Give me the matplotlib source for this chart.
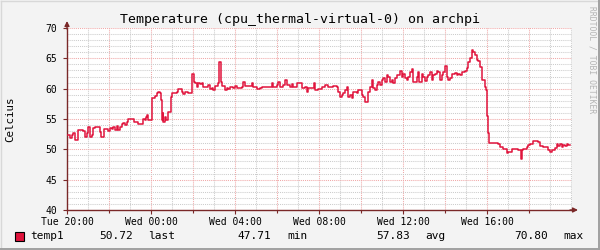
import matplotlib
matplotlib.use("Agg")
import matplotlib.pyplot as plt
from matplotlib.lines import Line2D
from matplotlib.patches import Rectangle
import numpy as np

plt.rcParams['font.family'] = ['DejaVu Sans Mono']

# hours since Tue 20:00 and temperature (deg C)
hours = [
    0.00, 0.14, 0.22, 0.30, 0.38, 0.54, 0.78, 0.86, 0.94, 1.02, 1.10, 1.17,
    1.25, 1.33, 1.49, 1.57, 1.60, 1.76, 1.97, 2.05, 2.13, 2.21, 2.29, 2.37,
    2.44, 2.52, 2.60, 2.68, 2.76, 2.84, 2.92, 3.19, 3.40, 3.60, 3.72, 3.76,
    3.83, 3.87, 4.06, 4.19, 4.27, 4.35, 4.43, 4.48, 4.51, 4.56, 4.59, 4.67,
    4.71, 4.79, 4.94, 4.98, 5.22, 5.30, 5.46, 5.51, 5.62, 5.78, 5.94, 5.97,
    6.05, 6.10, 6.17, 6.25, 6.33, 6.41, 6.49, 6.73, 6.81, 6.89, 6.97, 7.05,
    7.21, 7.25, 7.32, 7.37, 7.52, 7.60, 7.68, 7.76, 7.92, 8.00, 8.08, 8.32,
    8.40, 8.48, 8.79, 8.84, 9.03, 9.19, 9.27, 9.51, 9.75, 9.83, 9.99, 10.06,
    10.14, 10.30, 10.38, 10.46, 10.62, 10.70, 10.78, 10.94, 11.10, 11.17,
    11.33, 11.41, 11.49, 11.76, 11.81, 11.97, 12.13, 12.29, 12.44, 12.68,
    12.84, 12.92, 13.00, 13.08, 13.16, 13.24, 13.32, 13.40, 13.48, 13.56,
    13.63, 13.79, 13.87, 14.03, 14.11, 14.19, 14.35, 14.43, 14.51, 14.59,
    14.67, 14.75, 14.83, 14.90, 14.98, 15.06, 15.14, 15.22, 15.30, 15.38,
    15.46, 15.54, 15.62, 15.70, 15.86, 15.94, 16.02, 16.10, 16.17, 16.25,
    16.33, 16.41, 16.46, 16.65, 16.73, 16.78, 16.89, 16.97, 17.05, 17.13,
    17.21, 17.29, 17.37, 17.44, 17.52, 17.60, 17.68, 17.76, 17.84, 17.92,
    18.00, 18.08, 18.16, 18.24, 18.32, 18.48, 18.56, 18.63, 18.71, 18.79,
    18.95, 19.03, 19.11, 19.19, 19.27, 19.35, 19.43, 19.51, 19.59, 19.67,
    19.75, 19.83, 19.90, 19.95, 20.00, 20.04, 20.10, 20.30, 20.54, 20.62,
    20.78, 20.94, 21.02, 21.17, 21.49, 21.60, 21.65, 21.73, 21.89, 21.97,
    22.05, 22.21, 22.44, 22.52, 22.68, 22.92, 23.00, 23.08, 23.24, 23.32,
    23.40, 23.48, 23.56, 23.63, 23.71, 23.79, 23.87, 23.95,
]
temps = [
    52.37, 51.83, 52.37, 52.65, 51.55, 53.20, 53.10, 52.10, 52.65, 53.64,
    52.10, 52.40, 53.50, 53.74, 53.64, 52.90, 52.10, 53.30, 53.10, 53.50,
    53.30, 53.64, 53.20, 53.86, 53.20, 53.74, 54.20, 54.30, 54.00, 54.56,
    54.96, 54.56, 54.20, 54.96, 54.85, 55.40, 55.67, 54.85, 58.40, 58.80,
    59.24, 59.40, 59.24, 58.14, 54.85, 55.95, 54.56, 55.40, 54.85, 56.20,
    58.70, 59.24, 59.50, 59.95, 59.50, 59.07, 59.50, 59.35, 59.90, 62.50,
    61.15, 60.90, 60.33, 61.00, 60.80, 61.00, 60.33, 60.60, 59.90, 60.05,
    59.80, 60.43, 60.90, 64.45, 61.15, 60.43, 59.80, 60.05, 59.90, 60.33,
    60.05, 60.43, 60.05, 60.33, 61.15, 60.43, 61.00, 60.33, 59.90, 60.06,
    60.33, 60.20, 60.90, 60.33, 60.60, 61.15, 60.20, 60.60, 61.43, 60.60,
    60.33, 60.75, 60.20, 60.90, 60.90, 60.06, 60.20, 59.50, 60.06, 61.00,
    59.80, 59.90, 60.20, 60.60, 60.33, 60.40, 60.20, 59.50, 58.70, 58.96,
    59.35, 59.80, 60.20, 58.70, 58.96, 58.40, 59.50, 59.24, 59.70, 58.96,
    58.70, 57.86, 59.50, 60.20, 61.43, 60.06, 59.80, 60.60, 61.15, 60.60,
    61.43, 61.70, 61.15, 62.26, 62.00, 61.15, 61.43, 60.90, 61.70, 62.26,
    62.97, 62.00, 62.50, 61.70, 61.43, 62.00, 62.80, 63.20, 61.15, 62.00,
    62.80, 61.15, 62.50, 62.00, 61.30, 62.00, 62.26, 62.80, 61.43, 62.26,
    62.50, 62.97, 62.80, 61.43, 62.26, 62.80, 63.70, 62.00, 61.43, 61.70,
    62.50, 62.60, 62.26, 62.50, 62.26, 62.80, 62.97, 63.35, 64.45, 65.00,
    66.38, 66.10, 65.55, 64.70, 64.60, 63.63, 61.43, 61.43, 60.33, 59.80,
    55.50, 52.65, 51.10, 51.00, 50.90, 50.45, 50.00, 49.45, 49.60, 50.00,
    49.90, 48.36, 49.90, 50.00, 50.35, 50.70, 50.90, 51.43, 51.27, 50.55,
    50.35, 49.90, 49.60, 49.90, 50.20, 50.90, 50.55, 50.90, 50.45, 50.70,
    50.55, 50.90, 50.72, 50.72,
]

x_ticks = [0, 4, 8, 12, 16, 20]
x_labels = ["Tue 20:00", "Wed 00:00", "Wed 04:00", "Wed 08:00", "Wed 12:00", "Wed 16:00"]
y_ticks = [40, 45, 50, 55, 60, 65, 70]

legend_name = "temp1"
stats = [("50.72", "last"), ("47.71", "min"), ("57.83", "avg"), ("70.80", "max")]

W, H = 600, 250
fig = plt.figure(figsize=(6, 2.5), dpi=100, facecolor='#f3f3f3')

def fx(px):
    return px / W

def fy(py):
    return 1 - py / H

# frame shading
fig.add_artist(Line2D([fx(0.5), fx(599.5)], [fy(0.5), fy(0.5)], color='#d8d8d8', lw=1))
fig.add_artist(Line2D([fx(0.5), fx(0.5)], [fy(0.5), fy(249.5)], color='#d8d8d8', lw=1))
fig.add_artist(Line2D([fx(0), fx(600)], [fy(248.5), fy(248.5)], color='#a0a0a0', lw=1.4))
fig.add_artist(Line2D([fx(598.5), fx(598.5)], [fy(0), fy(250)], color='#a0a0a0', lw=1.4))

ax = fig.add_axes([fx(67), fy(210), fx(572 - 67), (210 - 28) / H])
ax.set_facecolor('white')

ax.step(hours, temps, where='post', color='#e0143c', lw=1.1, zorder=3)

ax.set_xlim(0, 24.05)
ax.set_ylim(40, 70)

# grid
grid_major = '#f0a8a8'
grid_minor = '#cccccc'
for h in np.arange(1, 24, 1):
    c = grid_major if h % 2 == 0 else grid_minor
    ax.axvline(h, color=c, lw=0.75, ls=(0, (1, 1)), zorder=1)
for v in range(41, 70):
    c = grid_major if v % 5 == 0 else grid_minor
    ax.axhline(v, color=c, lw=0.75, ls=(0, (1, 1)), zorder=1)
ax.axhline(70, color=grid_major, lw=0.75, ls=(0, (1, 1)), zorder=1)
ax.axvline(24, color=grid_minor, lw=0.75, ls=(0, (1, 1)), zorder=1)

axis_col = '#7a2828'
for s in ['top', 'right']:
    ax.spines[s].set_visible(False)
for s in ['left', 'bottom']:
    ax.spines[s].set_color(axis_col)
    ax.spines[s].set_linewidth(1.0)

ax.set_xticks(x_ticks)
ax.set_xticklabels(x_labels, fontsize=7)
ax.set_xticks(np.arange(0, 24, 2), minor=True)
ax.set_yticks(y_ticks)
ax.set_yticklabels([str(v) for v in y_ticks], fontsize=7)
ax.tick_params(axis='both', which='both', color=axis_col, length=3, width=0.8,
               direction='out', pad=2)
ax.tick_params(axis='x', which='minor', length=2)
ax.tick_params(axis='y', pad=4)

# arrows on axes
ax.annotate('', xy=(fx(578) , fy(210)), xycoords='figure fraction',
            xytext=(fx(570), fy(210)), textcoords='figure fraction',
            arrowprops=dict(arrowstyle='-|>', color=axis_col, lw=1.0,
                            mutation_scale=7, shrinkA=0, shrinkB=0))
ax.annotate('', xy=(fx(67), fy(21)), xycoords='figure fraction',
            xytext=(fx(67), fy(29)), textcoords='figure fraction',
            arrowprops=dict(arrowstyle='-|>', color=axis_col, lw=1.0,
                            mutation_scale=7, shrinkA=0, shrinkB=0))

fig.text(fx(300), fy(19), "Temperature (cpu_thermal-virtual-0) on archpi",
         ha='center', va='center', fontsize=9.5)
fig.text(fx(10), fy(119), "Celcius", rotation=90, ha='center', va='center',
         fontsize=7.8)
fig.text(fx(592), fy(6), "RRDTOOL / TOBI OETIKER", rotation=-90, ha='center',
         va='top', fontsize=5.8, color='#b4b4b4')

# legend row
ly = fy(236)
fig.add_artist(Rectangle((fx(15), fy(240.5)), fx(8.5), 9 / H, facecolor='#e0143c',
                         edgecolor='black', lw=0.8))
fig.text(fx(30), ly, legend_name, ha='left', va='center', fontsize=8)
val_x = [99, 237, 376, 514]
lab_x = [148, 287, 425, 563]
for (val, lab), vx, lx in zip(stats, val_x, lab_x):
    fig.text(fx(vx), ly, val, ha='left', va='center', fontsize=8)
    fig.text(fx(lx), ly, lab, ha='left', va='center', fontsize=8)

fig.savefig("out.png", dpi=100, facecolor=fig.get_facecolor())
